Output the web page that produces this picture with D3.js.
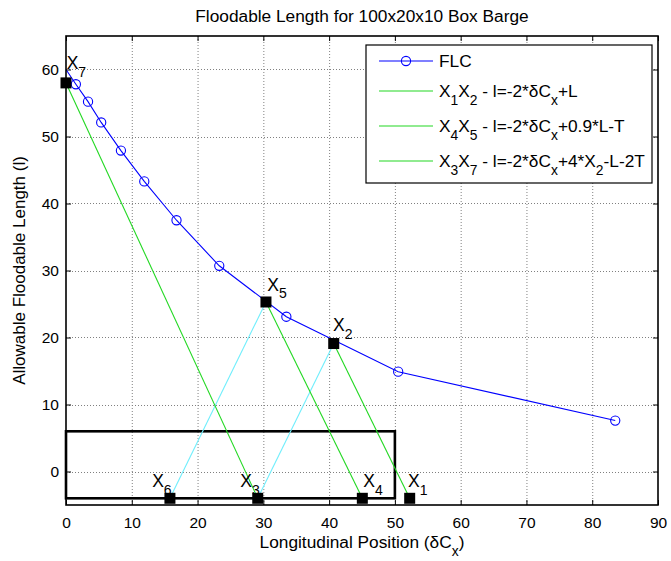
<!DOCTYPE html>
<html>
<head>
<meta charset="utf-8">
<script src="https://cdn.jsdelivr.net/npm/d3@7"></script>
<style>
  body { margin: 0; background: #fff; }
  text { font-family: "Liberation Sans", Arial, Helvetica, sans-serif; fill: #000; }
</style>
</head>
<body>
<svg id="chart"></svg>
<script>
const titleText = "Floodable Length for 100x20x10 Box Barge";
const xLabel = "Longitudinal Position (δC_x)";
const yLabel = "Allowable Floodable Length (l)";
const xTicks = [0, 10, 20, 30, 40, 50, 60, 70, 80, 90];
const yTicks = [0, 10, 20, 30, 40, 50, 60];

// floodable length curve
const flcX = [0, 1.5, 3.35, 5.35, 8.35, 11.9, 16.8, 23.3, 33.5, 50.5, 83.5];
const flcY = [60, 57.8, 55.2, 52.1, 47.9, 43.3, 37.5, 30.7, 23.1, 14.9, 7.6];

// construction points and where their labels sit (data units)
const pointNames = ["X_7", "X_5", "X_2", "X_6", "X_3", "X_4", "X_1"];
const pointX = [0, 30.4, 40.7, 15.8, 29.15, 45.05, 52.25];
const pointY = [58, 25.3, 19.1, -4, -4, -4, -4];
const labelX = [0.1, 30.6, 40.6, 13.1, 26.5, 45.2, 52.0];
const labelY = [60.1, 27.0, 20.9, -2.3, -2.3, -2.3, -2.3];

const greenPairs = [["X_2", "X_1"], ["X_5", "X_4"], ["X_7", "X_3"]];
const cyanPairs = [["X_6", "X_5"], ["X_3", "X_2"]];

const bargeX = [0, 50];
const bargeY = [-4, 6];

const legendLabels = [
  "FLC",
  "X_1X_2 - l=-2*δC_x+L",
  "X_4X_5 - l=-2*δC_x+0.9*L-T",
  "X_3X_7 - l=-2*δC_x+4*X_2-L-2T",
];

const W = 671, H = 561;
const m = {top: 36, right: 13, bottom: 56, left: 66};
const blue = "#0000ff", green = "#22d822", cyan = "#70eefc";

const svg = d3.select("#chart").attr("width", W).attr("height", H);

const x = d3.scaleLinear().domain([0, 90]).range([m.left, W - m.right]);
const y = d3.scaleLinear().domain([-5, 65]).range([H - m.bottom, m.top]);

// split "X_1X_2" into plain and subscript runs
function texParts(s) {
  const out = [];
  for (let i = 0; i < s.length; i++) {
    let sub = false, ch = s[i];
    if (ch === "_" && i + 1 < s.length) { sub = true; ch = s[++i]; }
    const last = out[out.length - 1];
    if (last && last.sub === sub && !sub) last.t += ch;
    else out.push({t: ch, sub});
  }
  return out;
}

function addTex(sel, s, fs) {
  const drop = fs * 0.45;
  let inSub = false;
  for (const p of texParts(s)) {
    const ts = sel.append("tspan").text(p.t);
    if (p.sub) {
      ts.attr("font-size", fs * 0.8);
      if (!inSub) ts.attr("dy", drop);
    } else if (inSub) {
      ts.attr("dy", -drop);
    }
    inSub = p.sub;
  }
  return sel;
}

// grid
const grid = svg.append("g").attr("stroke", "#808080").attr("stroke-width", 1).attr("stroke-dasharray", "1,2");
grid.selectAll("line.gx").data(xTicks.slice(1, -1)).join("line")
  .attr("x1", d => x(d) + 0.5).attr("x2", d => x(d) + 0.5)
  .attr("y1", y.range()[1]).attr("y2", y.range()[0]);
grid.selectAll("line.gy").data(yTicks).join("line")
  .attr("y1", d => Math.round(y(d)) + 0.5).attr("y2", d => Math.round(y(d)) + 0.5)
  .attr("x1", x.range()[0]).attr("x2", x.range()[1]);

// axes with inward ticks
const tickFs = 15.5;
const gx = svg.append("g").attr("transform", `translate(0,${y.range()[0]})`)
  .call(d3.axisBottom(x).tickValues(xTicks).tickSizeInner(-5).tickSizeOuter(0).tickPadding(12));
const gy = svg.append("g").attr("transform", `translate(${x.range()[0]},0)`)
  .call(d3.axisLeft(y).tickValues(yTicks).tickSizeInner(-5).tickSizeOuter(0).tickPadding(7));
const gt = svg.append("g").attr("transform", `translate(0,${y.range()[1]})`)
  .call(d3.axisTop(x).tickValues(xTicks).tickSizeInner(-5).tickSizeOuter(0).tickFormat(""));
const gr = svg.append("g").attr("transform", `translate(${x.range()[1]},0)`)
  .call(d3.axisRight(y).tickValues(yTicks).tickSizeInner(-5).tickSizeOuter(0).tickFormat(""));
for (const g of [gx, gy, gt, gr]) {
  g.select(".domain").remove();
  g.selectAll("line").attr("stroke", "#000");
  g.selectAll("text").attr("font-size", tickFs).attr("font-family", null).attr("fill", "#000");
}

// box barge outline
svg.append("rect")
  .attr("x", x(bargeX[0])).attr("y", y(bargeY[1]))
  .attr("width", x(bargeX[1]) - x(bargeX[0])).attr("height", y(bargeY[0]) - y(bargeY[1]))
  .attr("fill", "none").attr("stroke", "#000").attr("stroke-width", 2.6);

// construction lines
const pt = Object.fromEntries(pointNames.map((n, i) => [n, [pointX[i], pointY[i]]]));
function drawPairs(pairs, color) {
  svg.append("g").selectAll("line").data(pairs).join("line")
    .attr("x1", d => x(pt[d[0]][0])).attr("y1", d => y(pt[d[0]][1]))
    .attr("x2", d => x(pt[d[1]][0])).attr("y2", d => y(pt[d[1]][1]))
    .attr("stroke", color).attr("stroke-width", 1.1);
}
drawPairs(cyanPairs, cyan);
drawPairs(greenPairs, green);

// FLC curve
const flc = flcX.map((v, i) => [v, flcY[i]]);
svg.append("path").datum(flc)
  .attr("d", d3.line().x(d => x(d[0])).y(d => y(d[1])))
  .attr("fill", "none").attr("stroke", blue).attr("stroke-width", 1.1);
svg.append("g").selectAll("circle").data(flc.slice(1)).join("circle")
  .attr("cx", d => x(d[0])).attr("cy", d => y(d[1])).attr("r", 4.6)
  .attr("fill", "none").attr("stroke", blue).attr("stroke-width", 1.1);

// axes box on top of the barge
svg.append("rect")
  .attr("x", x.range()[0]).attr("y", y.range()[1])
  .attr("width", x.range()[1] - x.range()[0]).attr("height", y.range()[0] - y.range()[1])
  .attr("fill", "none").attr("stroke", "#000").attr("stroke-width", 1.6);

// squares
const sq = 11;
svg.append("g").selectAll("rect").data(pointNames).join("rect")
  .attr("x", (d, i) => x(pointX[i]) - sq / 2).attr("y", (d, i) => y(pointY[i]) - sq / 2)
  .attr("width", sq).attr("height", sq).attr("fill", "#000");

// point labels
const lblFs = 17.5;
pointNames.forEach((n, i) => {
  const t = svg.append("text").attr("x", x(labelX[i])).attr("y", y(labelY[i])).attr("font-size", lblFs);
  addTex(t, n, lblFs);
});

// title and axis labels
const cx = (x.range()[0] + x.range()[1]) / 2;
svg.append("text").attr("x", cx).attr("y", 22).attr("text-anchor", "middle").attr("font-size", 17.3).text(titleText);
addTex(svg.append("text").attr("x", cx).attr("y", 548).attr("text-anchor", "middle").attr("font-size", 17.3), xLabel, 17.3);
svg.append("text").attr("transform", `translate(25,${(y.range()[0] + y.range()[1]) / 2}) rotate(-90)`)
  .attr("text-anchor", "middle").attr("font-size", 17).text(yLabel);

// legend
const legW = 286, legH = 138;
const leg = svg.append("g").attr("transform", `translate(${x.range()[1] - 6 - legW},${y.range()[1] + 9})`);
leg.append("rect").attr("width", legW).attr("height", legH).attr("fill", "#fff").attr("stroke", "#000").attr("stroke-width", 1.2);
const legFs = 17.3;
let rowY = 16;
legendLabels.forEach((s, i) => {
  if (i > 0) rowY += s.includes("_") && legendLabels[i - 1].includes("_") ? 35 : 30;
  const color = i === 0 ? blue : green;
  leg.append("line").attr("x1", 13).attr("x2", 67).attr("y1", rowY).attr("y2", rowY)
    .attr("stroke", color).attr("stroke-width", 1.1);
  if (i === 0) {
    leg.append("circle").attr("cx", 40).attr("cy", rowY).attr("r", 4.6)
      .attr("fill", "none").attr("stroke", blue).attr("stroke-width", 1.1);
  }
  addTex(leg.append("text").attr("x", 73).attr("y", rowY + 6).attr("font-size", legFs), s, legFs);
});
</script>
</body>
</html>
